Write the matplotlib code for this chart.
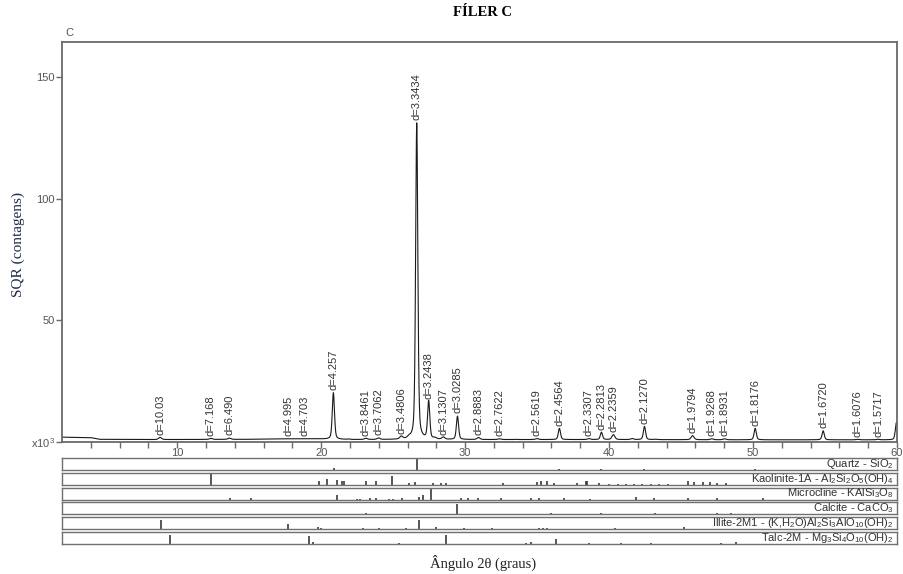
import numpy as np
import matplotlib.pyplot as plt

peak_2theta = [8.81, 12.34, 13.63, 17.74, 18.85, 20.85, 23.11, 23.99, 25.57, 26.64,
               27.47, 28.49, 29.47, 30.93, 32.39, 34.99, 36.55, 38.60, 39.47, 40.30,
               42.46, 45.80, 47.13, 48.02, 50.15, 54.87, 57.26, 58.69]
peak_height = [1.9, 1.5, 1.6, 1.3, 1.3, 20.3, 1.5, 1.6, 2.1, 131.5,
               16.5, 1.9, 10.6, 1.8, 1.3, 1.4, 5.6, 1.4, 4.0, 3.0,
               6.4, 2.6, 1.3, 1.3, 5.6, 4.6, 1.1, 1.1]
peak_labels = ['d=10.03', 'd=7.168', 'd=6.490', 'd=4.995', 'd=4.703', 'd=4.257',
               'd=3.8461', 'd=3.7062', 'd=3.4806', 'd=3.3434', 'd=3.2438', 'd=3.1307',
               'd=3.0285', 'd=2.8883', 'd=2.7622', 'd=2.5619', 'd=2.4564', 'd=2.3307',
               'd=2.2813', 'd=2.2359', 'd=2.1270', 'd=1.9794', 'd=1.9268', 'd=1.8931',
               'd=1.8176', 'd=1.6720', 'd=1.6076', 'd=1.5717']

# picos sem rotulo
extra_2theta = [21.9, 26.1, 27.9, 33.5, 41.6, 43.2, 59.96]
extra_height = [1.2, 1.6, 1.5, 1.1, 1.4, 1.1, 8.0]

# fundo
bg_2theta = [2.0, 3.0, 4.0, 4.6, 8.0, 15.0, 17.0, 19.5, 22.0, 30.0, 40.0, 50.0, 60.0]
bg_level = [2.0, 1.9, 1.8, 1.1, 1.0, 1.1, 1.3, 1.3, 1.0, 1.0, 1.0, 0.9, 0.9]

# fases identificadas (posicao 2theta, altura relativa na caixa)
quartz_pos = [20.86, 26.64, 36.54, 39.46, 42.45, 50.14]
quartz_int = [0.2, 0.9, 0.12, 0.12, 0.1, 0.12]
kaol_pos = [12.36, 19.84, 20.40, 21.10, 21.45, 21.60, 23.10, 23.80, 24.90, 26.10, 26.50,
            27.80, 28.30, 28.70, 32.60, 35.00, 35.30, 35.70, 36.20, 37.80, 38.40, 38.50,
            39.30, 40.00, 40.60, 41.20, 41.70, 42.30, 42.90, 43.50, 44.10, 45.50, 45.90,
            46.50, 47.00, 47.50, 48.10]
kaol_int = [0.9, 0.3, 0.45, 0.4, 0.3, 0.3, 0.3, 0.3, 0.7, 0.15, 0.25,
            0.12, 0.15, 0.15, 0.15, 0.25, 0.3, 0.3, 0.15, 0.15, 0.35, 0.35,
            0.15, 0.1, 0.1, 0.1, 0.1, 0.1, 0.1, 0.1, 0.1, 0.3, 0.25,
            0.2, 0.2, 0.15, 0.15]
micro_pos = [13.70, 15.10, 21.10, 22.50, 22.70, 23.40, 23.80, 24.70, 25.00, 25.60,
             26.80, 27.10, 27.60, 29.70, 30.20, 30.90, 32.50, 34.60, 35.10, 36.90,
             38.70, 41.90, 43.10, 45.50, 47.50, 50.70]
micro_int = [0.1, 0.1, 0.35, 0.08, 0.08, 0.12, 0.1, 0.08, 0.08, 0.15,
             0.25, 0.4, 0.9, 0.1, 0.1, 0.1, 0.1, 0.1, 0.1, 0.1,
             0.08, 0.2, 0.1, 0.1, 0.1, 0.15]
calc_pos = [23.10, 29.45, 36.00, 39.45, 43.20, 47.50, 48.50]
calc_int = [0.1, 0.9, 0.12, 0.12, 0.12, 0.12, 0.12]
illite_pos = [8.87, 17.70, 19.80, 20.00, 22.90, 24.00, 25.90, 26.80, 27.96, 29.90,
              31.90, 35.10, 35.40, 35.70, 40.40, 45.20]
illite_int = [0.75, 0.45, 0.15, 0.12, 0.1, 0.1, 0.1, 0.75, 0.15, 0.12,
              0.1, 0.1, 0.1, 0.1, 0.1, 0.2]
talc_pos = [9.47, 19.14, 19.45, 25.40, 28.70, 34.20, 34.60, 36.30, 38.60, 40.80,
            42.90, 47.80, 48.80]
talc_int = [0.75, 0.7, 0.2, 0.1, 0.75, 0.1, 0.15, 0.4, 0.1, 0.1,
            0.1, 0.1, 0.2]
phase_names = ['Quartz - SiO$_2$',
               'Kaolinite-1A - Al$_2$Si$_2$O$_5$(OH)$_4$',
               'Microcline - KAlSi$_3$O$_8$',
               'Calcite - CaCO$_3$',
               'Illite-2M1 - (K,H$_2$O)Al$_2$Si$_3$AlO$_{10}$(OH)$_2$',
               'Talc-2M - Mg$_3$Si$_4$O$_{10}$(OH)$_2$']

phases = [(quartz_pos, quartz_int), (kaol_pos, kaol_int), (micro_pos, micro_int),
          (calc_pos, calc_int), (illite_pos, illite_int), (talc_pos, talc_int)]

# --- perfil ---
x = np.linspace(2, 60, 6000)
y = np.interp(x, bg_2theta, bg_level)
bg_at = lambda p: np.interp(p, bg_2theta, bg_level)
for p, h in zip(peak_2theta + extra_2theta, peak_height + extra_height):
    w = 0.09 if h > 3 else 0.12
    amp = max(h - bg_at(p), 0)
    prof = 0.6 * np.exp(-((x - p) / w) ** 2 * np.log(2)) + 0.4 / (1 + ((x - p) / w) ** 2)
    y += amp * prof

W, H = 904, 574
fig = plt.figure(figsize=(W / 100, H / 100), dpi=100)
plt.rcParams['mathtext.fontset'] = 'custom'
plt.rcParams['mathtext.rm'] = 'Liberation Sans'
sans = 'Liberation Sans'
serif = 'Liberation Serif'
grey = '#6a6a6a'

ax = fig.add_axes([62 / W, 1 - 442 / H, 835 / W, 400 / H])
ax.plot(x, y, color='#1a1a1a', lw=0.8)
ax.set_xlim(2, 60)
ax.set_ylim(0, 164.6)
for s in ax.spines.values():
    s.set_color(grey)
    s.set_linewidth(1.3)
ax.set_yticks([0, 50, 100, 150])
ax.set_yticklabels(['x10$^3$', '50', '100', '150'])
ax.set_xticks([10, 20, 30, 40, 50, 60])
ax.set_xticks(np.arange(4, 60, 2), minor=True)
ax.tick_params(axis='both', which='both', colors=grey, labelcolor='#555555',
               labelsize=8, length=4, width=1, pad=1)
ax.tick_params(axis='x', which='major', pad=0.5, labelsize=8)
for lbl in ax.get_xticklabels() + ax.get_yticklabels():
    lbl.set_family(sans)

for p, h, t in zip(peak_2theta, peak_height, peak_labels):
    ax.annotate(t, (p, h), xytext=(0, 2), textcoords='offset points',
                rotation=90, ha='center', va='bottom', fontsize=8,
                family=sans, color='#333333')

fig.text(65 / W, 1 - 33 / H, 'C', fontsize=8, family=sans, color='#555555',
         va='center', ha='left')
fig.text(483 / W, 1 - 13 / H, 'FÍLER C', fontsize=10.5, family=serif,
         fontweight='bold', ha='center', va='center')
fig.text(18 / W, 1 - 245 / H, 'SQR (contagens)', fontsize=11, family=serif,
         color='#1e2a4a', rotation=90, ha='center', va='center')
fig.text(483 / W, 1 - 563 / H, 'Ângulo 2θ (graus)', fontsize=10.5, family=serif,
         color='#222222', ha='center', va='center')

# --- caixas das fases ---
for i, ((pos, inten), name) in enumerate(zip(phases, phase_names)):
    top = 458 + i * 14.8
    pax = fig.add_axes([62 / W, 1 - (top + 12) / H, 835 / W, 12 / H])
    pax.set_xlim(2, 60)
    pax.set_ylim(0, 1)
    pax.set_xticks([])
    pax.set_yticks([])
    for s in pax.spines.values():
        s.set_color('#707070')
        s.set_linewidth(1.0)
    pax.vlines(pos, 0, inten, color='#2a2a2a', lw=1.1)
    pax.text(59.75, 0.26, name, ha='right', va='baseline', fontsize=8,
             family=sans, color='#333333')

fig.savefig('out.png', dpi=100)
